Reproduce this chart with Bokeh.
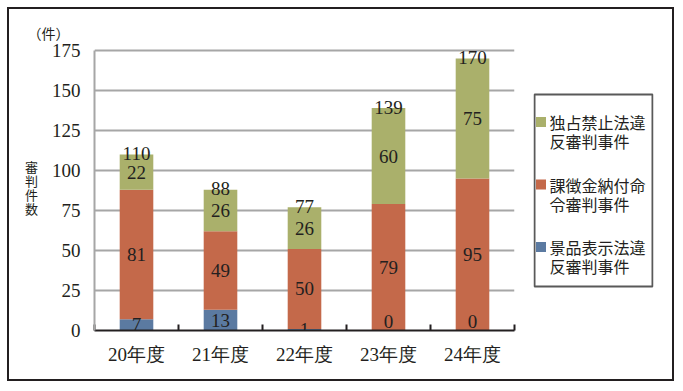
from bokeh.plotting import figure
from bokeh.layouts import row
from bokeh.models import (ColumnDataSource, Range1d, LinearAxis, FixedTicker, Title)
from bokeh.core.properties import value
from bokeh.embed import file_html
from bokeh.resources import INLINE

# ---- data ----
years = ["20年度", "21年度", "22年度", "23年度", "24年度"]
keihin = [7, 13, 1, 0, 0]          # 景品表示法違反審判事件
kachokin = [81, 49, 50, 79, 95]    # 課徴金納付命令審判事件
dokusen = [22, 26, 26, 60, 75]     # 独占禁止法違反審判事件
series_names = ["景品表示法違\n反審判事件", "課徴金納付命\n令審判事件", "独占禁止法違\n反審判事件"]
y_ticks = [0, 25, 50, 75, 100, 125, 150, 175]
y_title = "審\n判\n件\n数"
unit_text = "（件）"

colors = ["#5b7aa1", "#c4694a", "#aab06b"]
dark = "#231f20"
num_font = "Liberation Sans Narrow"
jp_font = "Noto Sans CJK JP"

n = len(years)
xc = [i + 0.5 for i in range(n)]   # category centres on a 0..n axis
bnd = list(range(n + 1))           # category boundaries

FH = 286  # frame height shared by both panels

p = figure(x_range=Range1d(0, n), y_range=Range1d(0, 178.75),
           frame_width=420, frame_height=FH, output_backend="svg", toolbar_location=None,
           x_axis_location=None, y_axis_location="left",
           min_border_left=85, min_border_right=10, min_border_top=35, min_border_bottom=49)
p.outline_line_color = None
p.background_fill_color = "white"
p.border_fill_color = "white"

# title used as unit label
p.title = Title(text=unit_text, align="left", offset=-67, standoff=4,
                text_font=jp_font, text_font_size="14px", text_font_style="normal",
                text_color=dark)

# grid
p.xgrid.grid_line_color = None
p.ygrid.ticker = FixedTicker(ticks=y_ticks)
p.ygrid.grid_line_color = "#a6a6a6"
p.ygrid.grid_line_width = 2

# y axis
ya = p.yaxis[0]
ya.ticker = FixedTicker(ticks=y_ticks)
ya.bounds = (0, 175)
ya.axis_line_color = "#a6a6a6"
ya.axis_line_width = 2
ya.major_tick_line_color = None
ya.minor_tick_line_color = None
ya.major_tick_out = 0
ya.major_label_standoff = 14
ya.major_label_text_font = num_font
ya.major_label_text_font_size = "19px"
ya.major_label_text_color = dark
ya.axis_label = y_title
ya.axis_label_orientation = "horizontal"
ya.axis_label_text_font = jp_font
ya.axis_label_text_font_size = "13px"
ya.axis_label_text_font_style = "normal"
ya.axis_label_text_line_height = 0.75
ya.axis_label_text_color = dark
ya.axis_label_standoff = 11

# bottom axis: labels at centres, ticks at boundaries (as minor ticks)
cx = LinearAxis(ticker=FixedTicker(ticks=xc, minor_ticks=bnd),
                major_label_overrides={c: y for c, y in zip(xc, years)})
cx.axis_line_color = dark
cx.axis_line_width = 2
cx.major_tick_line_color = None
cx.major_tick_in = 0
cx.major_tick_out = 0
cx.minor_tick_line_color = dark
cx.minor_tick_line_width = 2
cx.minor_tick_in = 6
cx.minor_tick_out = 0
cx.major_label_standoff = 13
cx.major_label_text_font = num_font
cx.major_label_text_font_size = "19px"
cx.major_label_text_color = dark
p.add_layout(cx, "below")

# bars
src = ColumnDataSource(dict(x=xc, keihin=keihin, kachokin=kachokin, dokusen=dokusen))
p.vbar_stack(["keihin", "kachokin", "dokusen"], x="x", width=0.4, color=colors,
             line_color=None, source=src)

# value labels
lx, ly, lt, loff = [], [], [], []
for i in range(n):
    base = 0
    for vals in (keihin, kachokin, dokusen):
        v = vals[i]
        lx.append(xc[i])
        ly.append(base + v / 2)
        lt.append(str(v))
        loff.append(-9 if v == 0 else 0)
        base += v
lsrc = ColumnDataSource(dict(x=lx, y=ly, t=lt, off=loff))
p.text(x="x", y="y", text="t", source=lsrc, y_offset="off", text_align="center",
       text_baseline="middle", text_font=value(num_font), text_font_size="19px",
       text_color=dark)

totals = [a + b + c for a, b, c in zip(keihin, kachokin, dokusen)]
tsrc = ColumnDataSource(dict(x=xc, y=totals, t=[str(t) for t in totals]))
p.text(x="x", y="y", text="t", source=tsrc, text_align="center", text_baseline="alphabetic",
       y_offset=-1, text_font=value(num_font), text_font_size="19px", text_color=dark)

# ---- legend panel (separate small figure, pixel-like coordinates, y downwards) ----
lp = figure(x_range=Range1d(0, 120), y_range=Range1d(FH, 0),
            frame_width=120, frame_height=FH, output_backend="svg", toolbar_location=None,
            x_axis_type=None, y_axis_type=None,
            min_border_left=9, min_border_right=19, min_border_top=35, min_border_bottom=49)
lp.outline_line_color = None
lp.background_fill_color = "white"
lp.border_fill_color = "white"
lp.xgrid.visible = False
lp.ygrid.visible = False

# legend box
lp.rect(x=[60], y=[146], width=[118], height=[192], fill_color="white",
        line_color="#595959", line_width=2)

order = [2, 1, 0]                  # legend order: top → bottom
item_top, item_step, line_step = 77.5, 62.5, 19
gx, gy, gc, tx, ty, tt = [], [], [], [], [], []
for j, k in enumerate(order):
    yc = item_top + j * item_step
    gx.append(7.5)
    gy.append(yc)
    gc.append(colors[k])
    for m, line in enumerate(series_names[k].split("\n")):
        tx.append(16)
        ty.append(yc + m * line_step)
        tt.append(line)
lp.scatter(x=gx, y=gy, marker="square", size=10, color=gc, line_color=None)
lp.text(x=tx, y=ty, text=tt, text_align="left", text_baseline="middle",
        text_font=value(jp_font), text_font_size="16px", text_color=dark)

lay = row(p, lp, spacing=0)
lay.styles = {"border": "2px solid #231f20", "margin": "7px 0 0 7px"}

open("out.html", "w").write(file_html(lay, INLINE))
